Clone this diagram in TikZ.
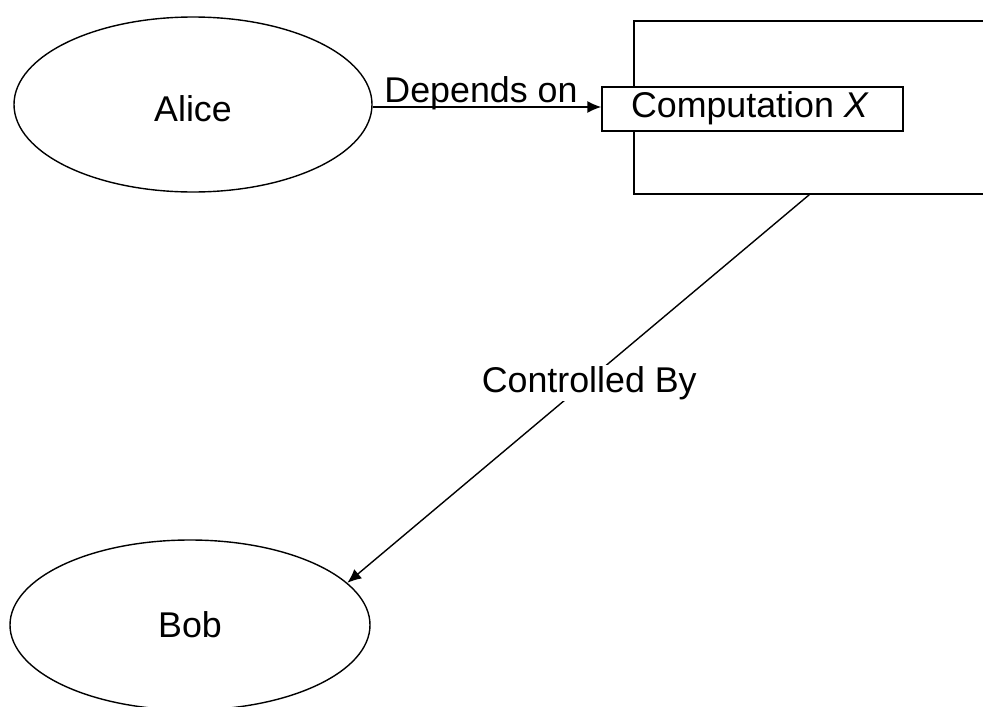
\documentclass[tikz,border=0pt]{standalone}
\usepackage{fontspec}
\setmainfont{Liberation Sans}
\usetikzlibrary{shapes.geometric,arrows.meta}
\begin{document}
\begin{tikzpicture}[x=1pt,y=-1pt,
  line width=1.4pt,
  every node/.style={font=\fontsize{35.8}{40}\selectfont},
  actor/.style={draw, ellipse, inner sep=0pt},
  box/.style={draw, rectangle, inner sep=0pt},
  link/.style={-{Latex[length=14pt,width=12pt]}},
  lbl/.style={inner sep=1pt}]
\useasboundingbox (0,0) rectangle (983,707);
\node[actor, minimum width=358pt, minimum height=175pt,
  label={[yshift=-4pt]center:Alice}] (alice) at (193,104.5) {};
\node[actor, minimum width=360pt, minimum height=170pt] (bob) at (190,625) {Bob};
\node[box, minimum width=380pt, minimum height=173pt] (outer) at (824,107.5) {};
\node[box, fill=white, minimum width=301pt, minimum height=44pt] (comp) at (752.5,109) {};
\node[anchor=west, inner sep=0pt] (comptext) at ([xshift=29pt,yshift=1pt]comp.west) {Computation \textit{X}};
\coordinate (cstart) at ([xshift=176pt]outer.south west);
\draw[link] (alice.east |- 0,107) -- (comp.west |- 0,107)
  node[lbl, midway, anchor=base, yshift=4.5pt, xshift=-6pt] {Depends on};
\draw[link] (cstart) -- (bob.15)
  node[lbl, pos=0.485, fill=white, xshift=4pt] {Controlled By};
\end{tikzpicture}
\end{document}
